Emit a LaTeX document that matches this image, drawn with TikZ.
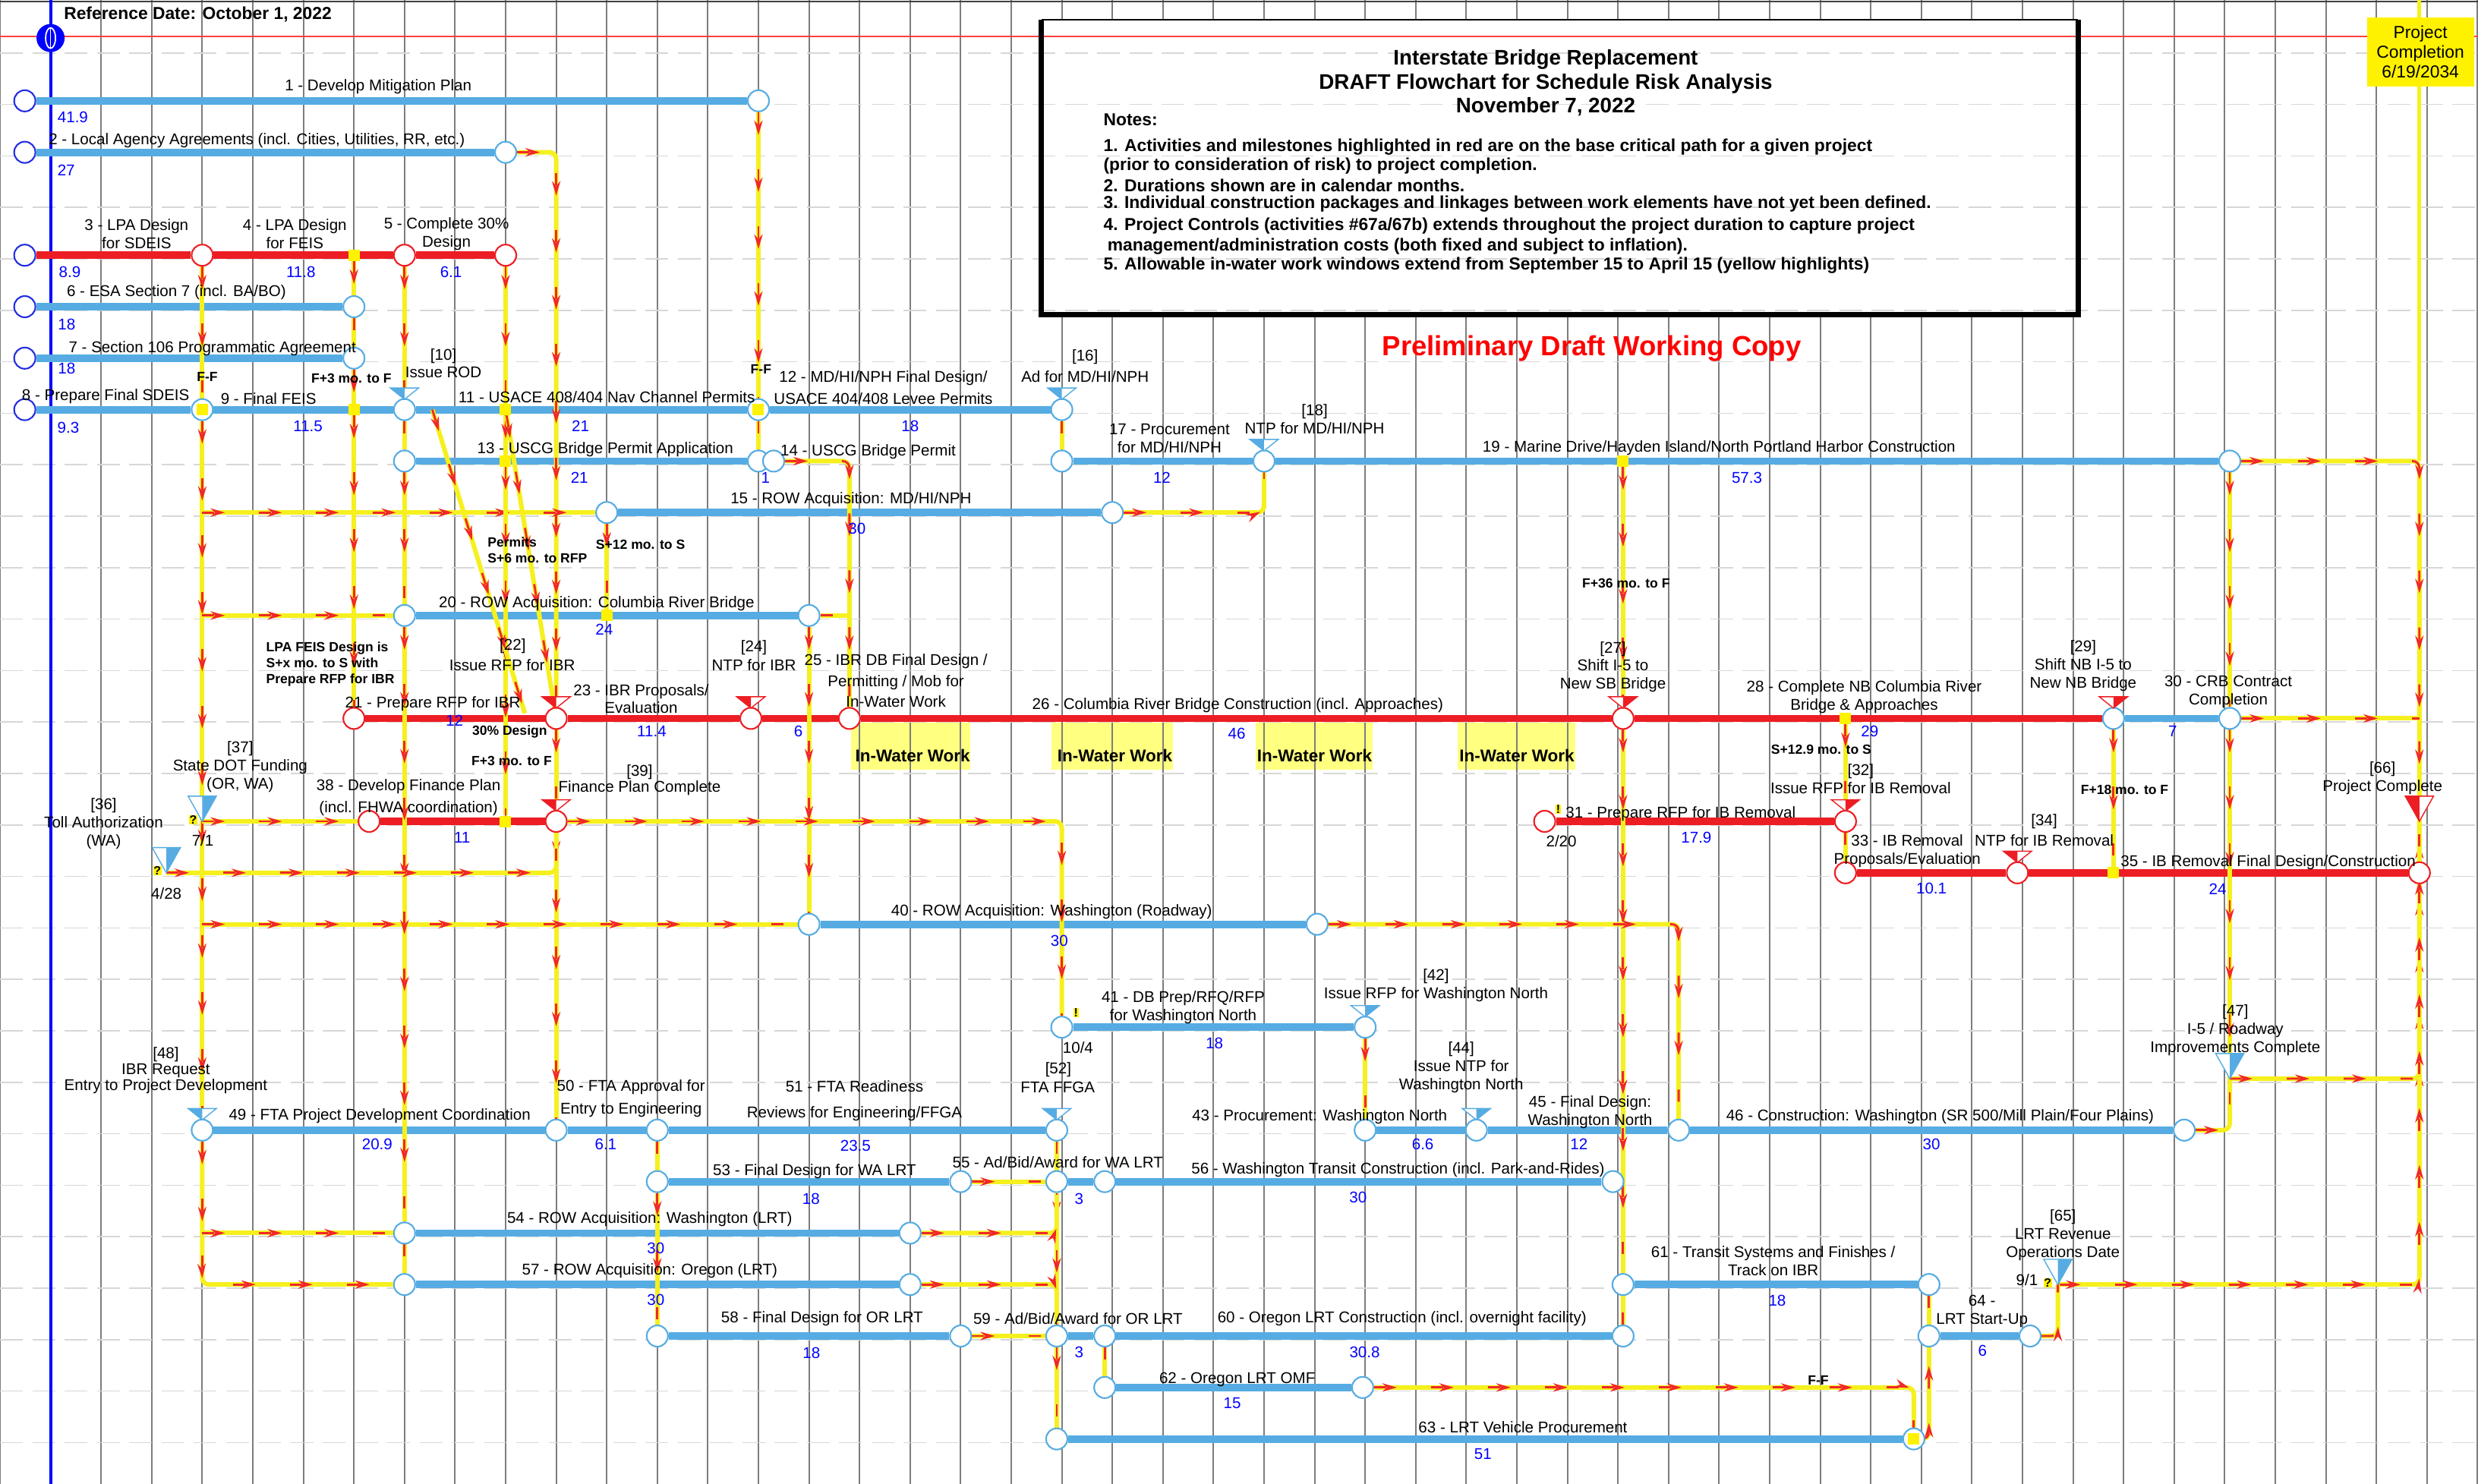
\documentclass[tikz,border=0pt]{standalone}
\usepackage{fontspec}
\setmainfont{Liberation Sans}
\usetikzlibrary{arrows.meta,decorations.markings}
\definecolor{barblue}{RGB}{86,172,226}
\definecolor{barred}{RGB}{236,30,36}
\definecolor{startblue}{RGB}{35,45,225}
\definecolor{lkyellow}{RGB}{245,240,30}
\definecolor{lkred}{RGB}{240,40,40}
\definecolor{durblue}{RGB}{0,0,255}
\definecolor{gridgray}{RGB}{125,125,125}
\definecolor{dashgray}{RGB}{215,215,215}
\definecolor{iwwyellow}{RGB}{255,255,128}
\pgfdeclarelayer{back}
\pgfdeclarelayer{mid}
\pgfsetlayers{back,mid,main}
% small flag over a milestone circle: node, colour, filled half (-1 left, 1 right)
\newcommand{\mtri}[3]{%
  \filldraw[draw=#2,fill=white,line width=0.8pt] (#1.center) ++(-0.28,-0.42) -- ++(0.56,0) -- ++(-0.28,0.22) -- cycle;
  \fill[#2] (#1.center) ++(0,-0.2) -- ++(0,-0.22) -- ++({#3*0.28},0) -- cycle;}
% large flag with its tip on the node
\newcommand{\btri}[3]{%
  \filldraw[draw=#2,fill=white,line width=0.8pt] (#1.center) -- ++(-0.28,-0.49) -- ++(0.56,0) -- cycle;
  \fill[#2] (#1.center) -- ++(0,-0.49) -- ++({#3*0.28},0) -- cycle;}

\begin{document}
\begin{tikzpicture}[x=1.332cm,y=-1.356cm,
  vline/.style={draw=gridgray,line width=1.2pt},
  hline/.style={draw=dashgray,line width=0.9pt,dash pattern=on 0.6cm off 0.25cm},
  bar/.style={draw=barblue,line width=5.6pt},
  redbar/.style={draw=barred,line width=5.6pt},
  act/.style={circle,draw=barblue,fill=white,line width=1.2pt,minimum size=0.56cm,inner sep=0pt},
  ract/.style={act,draw=barred},
  sact/.style={act,draw=startblue},
  ysq/.style={rectangle,fill=yellow,minimum size=0.3cm,inner sep=0pt},
  lbl/.style={font=\fontsize{11.7}{13.6}\selectfont,align=center,inner sep=0pt},
  dur/.style={font=\fontsize{11.7}{13}\selectfont,text=durblue,inner sep=0pt},
  lag/.style={font=\bfseries\fontsize{10}{11.9}\selectfont,align=left,inner sep=0pt},
  iww/.style={font=\bfseries\fontsize{12.8}{14}\selectfont,inner sep=0pt},
  flag/.style={fill=yellow,font=\bfseries\fontsize{9}{9}\selectfont,inner sep=0.4pt},
  link/.style={draw=lkyellow,line width=3.4pt,rounded corners=5pt,
    postaction={draw=lkred,line width=1.6pt,dash pattern=on 0.32cm off 1.18cm},
    postaction={decorate,decoration={markings,
      mark=between positions 0.6cm and -0.25cm step 1.5cm with {\arrow[color=lkred]{Stealth[length=3.8mm,width=2.2mm]}}}}}
]
\useasboundingbox (0,-0.959) rectangle (49.01,27.876);

% activity circles
\node[sact] (s1) at (0.49,1) {};
\node[act] (e1) at (15,1) {};
\node[sact] (s2) at (0.49,2) {};
\node[act] (e2) at (10,2) {};
\node[sact] (s3) at (0.49,4) {};
\node[ract] (n4a) at (4,4) {};
\node[ract] (n4b) at (8,4) {};
\node[ract] (n4c) at (10,4) {};
\node[sact] (s6) at (0.49,5) {};
\node[act] (e6) at (7,5) {};
\node[sact] (s7) at (0.49,6) {};
\node[act] (e7) at (7,6) {};
\node[sact] (s8) at (0.49,7) {};
\node[act] (e8) at (4,7) {};
\node[act] (m10) at (8,7) {};
\node[act] (e11) at (15,7) {};
\node[act] (m16) at (21,7) {};
\node[act] (s13) at (8,8) {};
\node[act] (e13) at (15,8) {};
\node[act] (e14) at (15.3,8) {};
\node[act] (s17) at (21,8) {};
\node[act] (m18) at (25,8) {};
\node[act] (e19) at (44.1,8) {};
\node[act] (s15) at (12,9) {};
\node[act] (e15) at (22,9) {};
\node[act] (s20) at (8,11) {};
\node[act] (e20) at (16,11) {};
\node[ract] (s21) at (7,13) {};
\node[ract] (m22) at (11,13) {};
\node[ract] (m24) at (14.85,13) {};
\node[ract] (s26) at (16.8,13) {};
\node[ract] (m27) at (32.1,13) {};
\node[act] (m29) at (41.8,13) {};
\node[act] (e30) at (44.1,13) {};
\node[ract] (s38) at (7.3,15) {};
\node[ract] (m39) at (11,15) {};
\node[ract] (s31) at (30.55,15) {};
\node[ract] (m32) at (36.5,15) {};
\node[ract] (s33) at (36.5,16) {};
\node[ract] (m34) at (39.9,16) {};
\node[ract] (e35) at (47.85,16) {};
\node[act] (s40) at (16,17) {};
\node[act] (e40) at (26.05,17) {};
\node[act] (s41) at (21,19) {};
\node[act] (m42) at (27,19) {};
\node[act] (m48) at (4,21) {};
\node[act] (s50) at (11,21) {};
\node[act] (s51) at (13,21) {};
\node[act] (m52) at (20.9,21) {};
\node[act] (s43) at (27,21) {};
\node[act] (m44) at (29.2,21) {};
\node[act] (s46) at (33.2,21) {};
\node[act] (e46) at (43.2,21) {};
\node[act] (s53) at (13,22) {};
\node[act] (e53) at (19,22) {};
\node[act] (s55) at (20.9,22) {};
\node[act] (s56) at (21.85,22) {};
\node[act] (e56) at (31.9,22) {};
\node[act] (s54) at (8,23) {};
\node[act] (e54) at (18,23) {};
\node[act] (s57) at (8,24) {};
\node[act] (e57) at (18,24) {};
\node[act] (s61) at (32.1,24) {};
\node[act] (e61) at (38.15,24) {};
\node[act] (s58) at (13,25) {};
\node[act] (e58) at (19,25) {};
\node[act] (s59) at (20.9,25) {};
\node[act] (s60) at (21.85,25) {};
\node[act] (e60) at (32.1,25) {};
\node[act] (s64) at (38.15,25) {};
\node[act] (e64) at (40.15,25) {};
\node[act] (s62) at (21.85,26) {};
\node[act] (e62) at (26.95,26) {};
\node[act] (s63) at (20.9,27) {};
\node[act] (e63) at (37.85,27) {};

% milestones without a circle, and free ends
\coordinate (m36) at (3.29,16);
\coordinate (m37) at (4,15);
\coordinate (m47) at (44.1,20);
\coordinate (m65) at (40.7,24);
\coordinate (m66) at (47.85,15);
\coordinate (dg1) at (8.55,7);
\coordinate (dg1e) at (10.38,12.9);
\coordinate (pctop) at (47.85,-0.96);

% yellow driving points
\node[ysq] (q4) at (7,4) {};
\node[ysq] (q7a) at (7,7) {};
\node[ysq] (q7b) at (10,7) {};
\node[ysq] (q8) at (10,8) {};
\node[ysq] (q19) at (32.1,8) {};
\node[ysq] (q11) at (12,11) {};
\node[ysq] (q13) at (36.5,13) {};
\node[ysq] (q15) at (10,15) {};
\node[ysq] (q16) at (41.8,16) {};
\node[ysq] (qe8) at (e8) {};
\node[ysq] (qe11) at (e11) {};
\node[ysq] (qe63) at (e63) {};

% milestone flags
\mtri{m10}{barblue}{-1}
\mtri{m16}{barblue}{-1}
\mtri{m18}{barblue}{-1}
\mtri{m22}{barred}{-1}
\mtri{m24}{barred}{-1}
\mtri{m27}{barred}{1}
\mtri{m29}{barred}{1}
\mtri{m32}{barred}{1}
\mtri{m34}{barred}{-1}
\mtri{m39}{barred}{-1}
\mtri{m42}{barblue}{1}
\mtri{m44}{barblue}{1}
\mtri{m52}{barblue}{-1}
\mtri{m48}{barblue}{-1}
\btri{m36}{barblue}{1}
\btri{m37}{barblue}{1}
\btri{m47}{barblue}{1}
\btri{m65}{barblue}{1}
\btri{m66}{barred}{-1}
\node[flag] (f36) at (3.11,15.96) {?};
\node[flag] (f37) at (3.82,14.97) {?};
\node[flag] (f65) at (40.5,23.97) {?};
\node[flag] (f31) at (30.82,14.76) {!};
\node[flag] (f41) at (21.28,18.72) {!};

% reference date marker
\node[circle,fill=blue,minimum size=0.74cm,inner sep=0pt] (refd) at (1,-0.22) {};
\draw[white,line width=1pt] (refd.center) ellipse (0.13cm and 0.27cm);
\draw[white,line width=0.8pt] (refd.center) ++(0,-0.19) -- ++(0,0.38);

% header texts
\node[anchor=west,font=\bfseries\fontsize{13}{15}\selectfont,inner sep=0pt] (refdate) at (1.26,-0.68) {Reference Date: October 1, 2022};
\node[align=center,font=\bfseries\fontsize{15.8}{18.1}\selectfont,inner sep=0pt] (title) at (30.57,0.65) {Interstate Bridge Replacement\\DRAFT Flowchart for Schedule Risk Analysis\\November 7, 2022};
\node[anchor=west,font=\bfseries\fontsize{13}{14.2}\selectfont,inner sep=0pt] (nh) at (21.82,1.37) {Notes:};
\node[anchor=west,align=left,font=\bfseries\fontsize{13}{14.2}\selectfont,inner sep=0pt] (n1) at (21.82,2.085) {1. Activities and milestones highlighted in red are on the base critical path for a given project\\(prior to consideration of risk) to project completion.};
\node[anchor=west,font=\bfseries\fontsize{13}{14.2}\selectfont,inner sep=0pt] (n2) at (21.82,2.64) {2. Durations shown are in calendar months.};
\node[anchor=west,font=\bfseries\fontsize{13}{14.2}\selectfont,inner sep=0pt] (n3) at (21.82,3.01) {3. Individual construction packages and linkages between work elements have not yet been defined.};
\node[anchor=west,align=left,font=\bfseries\fontsize{13}{15.3}\selectfont,inner sep=0pt] (n4) at (21.82,3.635) {4. Project Controls (activities \#67a/67b) extends throughout the project duration to capture project\\\hspace{3pt}management/administration costs (both fixed and subject to inflation).};
\node[anchor=west,font=\bfseries\fontsize{13}{14.2}\selectfont,inner sep=0pt] (n5) at (21.82,4.2) {5. Allowable in-water work windows extend from September 15 to April 15 (yellow highlights)};
\node[font=\bfseries\fontsize{20.8}{23}\selectfont,text=red,inner sep=0pt] (draft) at (31.48,5.82) {Preliminary Draft Working Copy};
\node[fill=yellow,minimum width=2.82cm,minimum height=1.82cm,align=center,font=\fontsize{13}{14.7}\selectfont] (pc) at (47.87,0.05) {Project\\Completion\\6/19/2034};

% activity labels and durations
\node[lbl] (t1) at (7.48,0.73) {1 - Develop Mitigation Plan};
\node[dur] (d1) at (1.44,1.32) {41.9};
\node[lbl] (t2) at (5.08,1.77) {2 - Local Agency Agreements (incl. Cities, Utilities, RR, etc.)};
\node[dur] (d2) at (1.31,2.35) {27};
\node[lbl] (t3) at (2.7,3.58) {3 - LPA Design\\for SDEIS};
\node[dur] (d3) at (1.38,4.33) {8.9};
\node[lbl] (t4) at (5.83,3.58) {4 - LPA Design\\for FEIS};
\node[dur] (d4) at (5.95,4.33) {11.8};
\node[lbl] (t5) at (8.83,3.58) {5 - Complete 30\%\\Design};
\node[dur] (d5) at (8.92,4.33) {6.1};
\node[lbl] (t6) at (3.49,4.72) {6 - ESA Section 7 (incl. BA/BO)};
\node[dur] (d6) at (1.32,5.34) {18};
\node[lbl] (t7) at (4.2,5.81) {7 - Section 106 Programmatic Agreement};
\node[dur] (d7) at (1.32,6.2) {18};
\node[lbl] (t8) at (2.09,6.74) {8 - Prepare Final SDEIS};
\node[dur] (d8) at (1.35,7.35) {9.3};
\node[lbl] (t9) at (5.31,6.78) {9 - Final FEIS};
\node[dur] (d9) at (6.09,7.32) {11.5};
\node[lbl] (t10) at (8.77,6.1) {[10]\\Issue ROD};
\node[lbl] (t11) at (12.0,6.76) {11 - USACE 408/404 Nav Channel Permits};
\node[dur] (d11) at (11.48,7.32) {21};
\node[lag] (g1) at (4.1,6.36) {F-F};
\node[lag] (g2) at (6.95,6.39) {F+3 mo. to F};
\node[lag] (g3) at (15.05,6.22) {F-F};
\node[lbl,font=\fontsize{11.7}{16.4}\selectfont] (t12) at (17.47,6.57) {12 - MD/HI/NPH Final Design/\\USACE 404/408 Levee Permits};
\node[dur] (d12) at (18.0,7.32) {18};
\node[lbl,font=\fontsize{11.7}{15.9}\selectfont] (t16) at (21.46,6.15) {[16]\\Ad for MD/HI/NPH};
\node[lbl] (t13) at (11.97,7.78) {13 - USCG Bridge Permit Application};
\node[dur] (d13) at (11.46,8.32) {21};
\node[lbl] (t14) at (17.17,7.82) {14 - USCG Bridge Permit};
\node[dur] (d14) at (15.14,8.32) {1};
\node[lbl] (t17) at (23.13,7.56) {17 - Procurement\\for MD/HI/NPH};
\node[dur] (d17) at (22.98,8.32) {12};
\node[lbl] (t18) at (26.0,7.19) {[18]\\NTP for MD/HI/NPH};
\node[lbl] (t19) at (34.0,7.75) {19 - Marine Drive/Hayden Island/North Portland Harbor Construction};
\node[dur] (d19) at (34.55,8.32) {57.3};
\node[lbl] (t15) at (16.83,8.75) {15 - ROW Acquisition: MD/HI/NPH};
\node[dur] (d15) at (16.95,9.32) {30};
\node[lag,anchor=west] (g4) at (9.64,9.73) {Permits\\S+6 mo. to RFP};
\node[lag,anchor=west] (g5) at (11.78,9.63) {S+12 mo. to S};
\node[lbl] (t20) at (11.8,10.77) {20 - ROW Acquisition: Columbia River Bridge};
\node[dur] (d20) at (11.95,11.27) {24};
\node[lag,anchor=west] (g6) at (5.26,11.94) {LPA FEIS Design is\\S+x mo. to S with\\Prepare RFP for IBR};
\node[lbl] (t21) at (8.56,12.71) {21 - Prepare RFP for IBR};
\node[dur] (d21) at (8.99,13.04) {12};
\node[lbl] (t22a) at (10.14,11.6) {[22]};
\node[lbl] (t22b) at (10.13,11.97) {Issue RFP for IBR};
\node[lbl] (t23) at (12.68,12.62) {23 - IBR Proposals/\\Evaluation};
\node[dur] (d23) at (12.89,13.25) {11.4};
\node[lag] (g7) at (10.08,13.26) {30\% Design};
\node[lag] (g8) at (10.12,13.83) {F+3 mo. to F};
\node[lbl] (t24a) at (14.91,11.62) {[24]};
\node[lbl] (t24b) at (14.91,11.97) {NTP for IBR};
\node[lbl,font=\fontsize{11.7}{15.6}\selectfont] (t25) at (17.72,12.27) {25 - IBR DB Final Design /\\Permitting / Mob for\\In-Water Work};
\node[dur] (d25) at (15.79,13.25) {6};
\node[lbl] (t26) at (24.48,12.74) {26 - Columbia River Bridge Construction (incl. Approaches)};
\node[dur] (d26) at (24.46,13.29) {46};
\node[lbl] (t27) at (31.9,12.0) {[27]\\Shift I-5 to\\New SB Bridge};
\node[lag] (g9) at (32.16,10.37) {F+36 mo. to F};
\node[lbl] (t28) at (36.87,12.58) {28 - Complete NB Columbia River\\Bridge \& Approaches};
\node[dur] (d28) at (36.98,13.25) {29};
\node[lag] (g10) at (36.02,13.6) {S+12.9 mo. to S};
\node[lbl] (t29) at (41.2,11.98) {[29]\\Shift NB I-5 to\\New NB Bridge};
\node[lbl] (t30) at (44.07,12.48) {30 - CRB Contract\\Completion};
\node[dur] (d30) at (42.97,13.25) {7};
\node[lag] (g11) at (42.02,14.39) {F+18 mo. to F};
\node[lbl] (t66) at (47.12,14.16) {[66]\\Project Complete};
\node[lbl] (t35) at (44.86,15.8) {35 - IB Removal Final Design/Construction};
\node[dur] (d35) at (43.86,16.32) {24};
\node[lbl,font=\fontsize{11.7}{15.3}\selectfont] (t34) at (40.43,15.17) {[34]\\NTP for IB Removal};
\node[lbl] (t33) at (37.72,15.58) {33 - IB Removal\\Proposals/Evaluation};
\node[dur] (d33) at (38.2,16.31) {10.1};
\node[lbl] (t32) at (36.8,14.18) {[32]\\Issue RFP for IB Removal};
\node[lbl] (t31) at (33.24,14.85) {31 - Prepare RFP for IB Removal};
\node[dur] (d31) at (33.55,15.31) {17.9};
\node[lbl] (x1) at (30.88,15.39) {2/20};
\node[lbl] (t36) at (2.05,15.05) {[36]\\Toll Authorization\\(WA)};
\node[lbl] (x2) at (3.29,16.4) {4/28};
\node[lbl] (t37) at (4.75,13.94) {[37]\\State DOT Funding\\(OR, WA)};
\node[lbl] (x3) at (4.01,15.37) {7/1};
\node[lbl,font=\fontsize{11.7}{16.2}\selectfont] (t38) at (8.08,14.54) {38 - Develop Finance Plan\\(incl. FHWA coordination)};
\node[dur] (d38) at (9.14,15.31) {11};
\node[lbl,font=\fontsize{11.7}{11.6}\selectfont] (t39) at (12.65,14.2) {[39]\\Finance Plan Complete};
\node[lbl] (t40) at (20.8,16.76) {40 - ROW Acquisition: Washington (Roadway)};
\node[dur] (d40) at (20.95,17.32) {30};
\node[lbl] (t41) at (23.4,18.62) {41 - DB Prep/RFQ/RFP\\for Washington North};
\node[dur] (d41) at (24.02,19.31) {18};
\node[lbl] (x4) at (21.32,19.4) {10/4};
\node[lbl] (t42) at (28.4,18.19) {[42]\\Issue RFP for Washington North};
\node[lbl] (t43) at (26.1,20.74) {43 - Procurement: Washington North};
\node[dur] (d43) at (28.14,21.27) {6.6};
\node[lbl] (t44) at (28.9,19.78) {[44]\\Issue NTP for\\Washington North};
\node[lbl] (t45) at (31.45,20.65) {45 - Final Design:\\Washington North};
\node[dur] (d45) at (31.23,21.27) {12};
\node[lbl] (t46) at (38.37,20.74) {46 - Construction: Washington (SR 500/Mill Plain/Four Plains)};
\node[dur] (d46) at (38.2,21.27) {30};
\node[lbl] (t47) at (44.21,19.06) {[47]\\I-5 / Roadway\\Improvements Complete};
\node[lbl,font=\fontsize{11.7}{12}\selectfont] (t48) at (3.28,19.84) {[48]\\IBR Request\\Entry to Project Development};
\node[lbl] (t49) at (7.51,20.72) {49 - FTA Project Development Coordination};
\node[dur] (d49) at (7.46,21.28) {20.9};
\node[lbl,font=\fontsize{11.7}{17}\selectfont] (t50) at (12.48,20.38) {50 - FTA Approval for\\Entry to Engineering};
\node[dur] (d50) at (11.98,21.27) {6.1};
\node[lbl,font=\fontsize{11.7}{19.8}\selectfont] (t51) at (16.9,20.43) {51 - FTA Readiness\\Reviews for Engineering/FFGA};
\node[dur] (d51) at (16.92,21.3) {23.5};
\node[lbl] (t52a) at (20.93,19.82) {[52]};
\node[lbl] (t52b) at (20.92,20.17) {FTA FFGA};
\node[lbl] (t53) at (16.11,21.8) {53 - Final Design for WA LRT};
\node[dur] (d53) at (16.04,22.33) {18};
\node[lbl] (t55) at (20.92,21.62) {55 - Ad/Bid/Award for WA LRT};
\node[dur] (d55) at (21.34,22.33) {3};
\node[lbl] (t56) at (27.65,21.77) {56 - Washington Transit Construction (incl. Park-and-Rides)};
\node[dur] (d56) at (26.86,22.31) {30};
\node[lbl] (t54) at (12.85,22.73) {54 - ROW Acquisition: Washington (LRT)};
\node[dur] (d54) at (12.97,23.3) {30};
\node[lbl] (t57) at (12.85,23.73) {57 - ROW Acquisition: Oregon (LRT)};
\node[dur] (d57) at (12.97,24.3) {30};
\node[lbl] (t61) at (35.07,23.54) {61 - Transit Systems and Finishes /\\Track on IBR};
\node[dur] (d61) at (35.15,24.32) {18};
\node[lbl] (t65) at (40.8,23.04) {[65]\\LRT Revenue\\Operations Date};
\node[lbl] (x5) at (40.09,23.91) {9/1};
\node[lbl] (t58) at (16.26,24.67) {58 - Final Design for OR LRT};
\node[dur] (d58) at (16.05,25.33) {18};
\node[lbl] (t59) at (21.32,24.67) {59 - Ad/Bid/Award for OR LRT};
\node[dur] (d59) at (21.34,25.32) {3};
\node[lbl] (t60) at (27.73,24.67) {60 - Oregon LRT Construction (incl. overnight facility)};
\node[dur] (d60) at (26.99,25.32) {30.8};
\node[lbl] (t64) at (39.2,24.52) {64 -\\LRT Start-Up};
\node[dur] (d64) at (39.21,25.29) {6};
\node[lbl] (t62) at (24.47,25.84) {62 - Oregon LRT OMF};
\node[dur] (d62) at (24.37,26.31) {15};
\node[lag] (g12) at (35.96,25.86) {F-F};
\node[lbl] (t63) at (30.12,26.77) {63 - LRT Vehicle Procurement};
\node[dur] (d63) at (29.33,27.3) {51};

% in-water work windows
\node[iww] (w1) at (18.05,13.72) {In-Water Work};
\node[iww] (w2) at (22.05,13.72) {In-Water Work};
\node[iww] (w3) at (26.0,13.72) {In-Water Work};
\node[iww] (w4) at (30.0,13.72) {In-Water Work};

% grid, notes frame
\begin{pgfonlayer}{back}
\fill[white] (0,-0.959) rectangle (49.01,27.876);
\fill[iwwyellow] (16.83,13.08) rectangle (19.19,14.0);
\fill[iwwyellow] (20.8,13.08) rectangle (23.2,14.0);
\fill[iwwyellow] (24.83,13.08) rectangle (27.15,14.0);
\fill[iwwyellow] (28.83,13.08) rectangle (31.16,14.0);
\foreach \k in {0,...,49}
  \draw[vline] (\k,-0.959) -- (\k,27.876);
\fill[white] (20.6,-0.575) rectangle (41.1,5.15);
\foreach \j in {0,...,27}
  \draw[hline] (0,\j+0.07) -- (49.01,\j+0.07);
\draw[black!75,line width=1pt] (0,-0.93) -- (49.01,-0.93);
\draw[red!75,line width=0.9pt] (0,-0.25) -- (49.01,-0.25);
\draw[blue,line width=2.2pt] (1,-0.959) -- (1,27.876);
\draw[black,line width=1.4pt] (20.6,-0.575) -- (41.1,-0.575);
\draw[black,line width=4pt] (20.6,-0.575) -- (20.6,5.15) -- (41.1,5.15) -- (41.1,-0.575);
\end{pgfonlayer}

% bars and logic links
\begin{pgfonlayer}{mid}
\draw[bar] (s1) -- (e1);
\draw[bar] (s2) -- (e2);
\draw[redbar] (s3) -- (n4a);
\draw[redbar] (n4a) -- (n4b);
\draw[redbar] (n4b) -- (n4c);
\draw[bar] (s6) -- (e6);
\draw[bar] (s7) -- (e7);
\draw[bar] (s8) -- (e8);
\draw[bar] (e8) -- (m10);
\draw[bar] (m10) -- (e11);
\draw[bar] (e11) -- (m16);
\draw[bar] (s13) -- (e13);
\draw[bar] (s17) -- (m18);
\draw[bar] (m18) -- (e19);
\draw[bar] (s15) -- (e15);
\draw[bar] (s20) -- (e20);
\draw[redbar] (s21) -- (m22);
\draw[redbar] (m22) -- (m24);
\draw[redbar] (m24) -- (s26);
\draw[redbar] (s26) -- (m27);
\draw[redbar] (m27) -- (m29);
\draw[bar] (m29) -- (e30);
\draw[redbar] (s38) -- (m39);
\draw[redbar] (s31) -- (m32);
\draw[redbar] (s33) -- (m34);
\draw[redbar] (m34) -- (e35);
\draw[bar] (s40) -- (e40);
\draw[bar] (s41) -- (m42);
\draw[bar] (m48) -- (s50);
\draw[bar] (s50) -- (s51);
\draw[bar] (s51) -- (m52);
\draw[bar] (s43) -- (m44);
\draw[bar] (m44) -- (s46);
\draw[bar] (s46) -- (e46);
\draw[bar] (s53) -- (e53);
\draw[bar] (s55) -- (s56);
\draw[bar] (s56) -- (e56);
\draw[bar] (s54) -- (e54);
\draw[bar] (s57) -- (e57);
\draw[bar] (s61) -- (e61);
\draw[bar] (s58) -- (e58);
\draw[bar] (s59) -- (s60);
\draw[bar] (s60) -- (e60);
\draw[bar] (s64) -- (e64);
\draw[bar] (s62) -- (e62);
\draw[bar] (s63) -- (e63);
\draw[draw=lkyellow,line width=3pt] (pctop) -- (pctop |- e19);
\draw[link] (e1) -- (e11);
\draw[link] (e11) -- (e13);
\draw[link] (e2) -| (m22);
\draw[link] (m22) -- (m39);
\draw[link] (m39) -- (s50);
\draw[link] (n4a) -- (e8);
\draw[link] (e8) -- (m37);
\draw[link] (m37) -- (m48);
\draw[link] (m48) |- (s57);
\draw[link] (e8 |- s15) -- (s15);
\draw[link] (e8 |- s20) -- (s20);
\draw[link] (m37) -- (s38);
\draw[link] (e8 |- s40) -- (s40);
\draw[link] (m48 |- s54) -- (s54);
\draw[link] (q4) -- (e6);
\draw[link] (e6) -- (e7);
\draw[link] (e7) -- (q7a);
\draw[link] (q7a) -- (s21);
\draw[link] (n4b) -- (m10);
\draw[link] (m10) -- (s13);
\draw[link] (s13) -- (s20);
\draw[link] (s20) -- (s54);
\draw[link] (s54) -- (s57);
\draw[link] (n4c) -- (q7b);
\draw[link] (q7b) -- (q8);
\draw[link] (q8) -- (q15);
\draw[link] (s15) -- (q11);
\draw[link] (dg1) -- (dg1e);
\draw[link] (q7b) -- (m22);
\draw[link] (e14) -| (s26);
\draw[link] (e20) -- (e20 -| s26);
\draw[link] (e20) -- (s40);
\draw[link] (m16) -- (s17);
\draw[link] (e15) -| (m18);
\draw[link] (m39) -| (s41);
\draw[link] (m36) -| (m39);
\draw[link] (q19) -- (m27);
\draw[link] (m27) -- (s61);
\draw[link] (e60) -- (s61);
\draw[link] (e40) -| (s46);
\draw[link] (q13) -- (m32);
\draw[link] (m32) -- (s33);
\draw[link] (m29) -- (q16);
\draw[link] (e19) -- (e30);
\draw[link] (e30) -- (m47);
\draw[link] (e46) -| (m47);
\draw[link] (e19) -| (m66);
\draw[link] (e30) -- (e30 -| m66);
\draw[link] (m47) -| (m66);
\draw[link] (m65) -| (m66);
\draw[link] (m42) -- (s43);
\draw[link] (s51) -- (s53);
\draw[link] (s53) -- (s58);
\draw[link] (m52) -- (s55);
\draw[link] (s55) -- (s59);
\draw[link] (s59) -- (s63);
\draw[link] (e54) -| (s55);
\draw[link] (e57) -| (s59);
\draw[link] (e53) -- (s55);
\draw[link] (e58) -- (s59);
\draw[link] (s60) -- (s62);
\draw[link] (e62) -| (e63);
\draw[link] (e63) -| (s64);
\draw[link] (e61) -- (s64);
\draw[link] (e64) -| (m65);
\end{pgfonlayer}
\end{tikzpicture}
\end{document}
